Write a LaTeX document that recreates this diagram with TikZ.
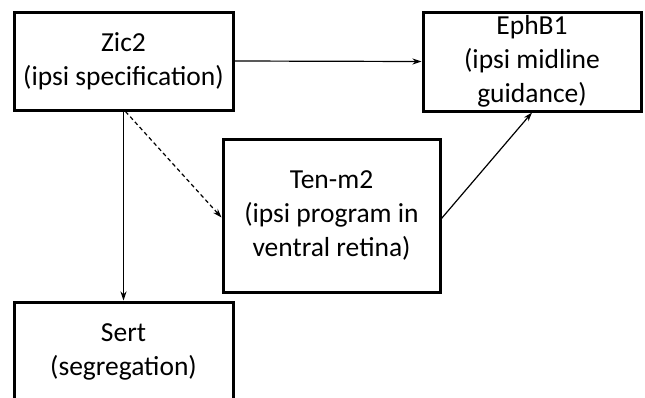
\documentclass[tikz,border=0pt]{standalone}
\usepackage{fontspec}
\setmainfont{Carlito}
\usetikzlibrary{arrows.meta}
\begin{document}
\begin{tikzpicture}[x=1pt,y=-1pt,
  box/.style={draw,line width=3pt,align=center,inner sep=0pt,
    font=\fontsize{27.5}{34}\selectfont},
  conn/.style={line width=1.2pt,-{Stealth[length=9pt,width=6pt]}}]
\useasboundingbox[fill=white] (0,0) rectangle (645,397);
\node[box,minimum width=219pt,minimum height=98pt] (zic) at (123.5,61) {Zic2\\(ipsi specification)};
\node[box,minimum width=218pt,minimum height=99pt] (eph) at (532,61.5) {EphB1\\(ipsi midline\\guidance)};
\node[box,minimum width=217pt,minimum height=153pt] (ten) at (331.5,215.5) {Ten-m2\\(ipsi program in\\ventral retina)};
\node[box,minimum width=219pt,minimum height=100pt] (sert) at (123.5,352) {Sert\\(segregation)};
\draw[conn] (zic.east) -- (eph.west);
\draw[conn] (zic.south) -- (sert.north);
\draw[conn,dash pattern=on 4pt off 3pt] ([xshift=2pt]zic.south) -- ([yshift=-2pt]ten.west);
\draw[conn] ([yshift=-3pt]ten.east) -- (eph.south);
\end{tikzpicture}
\end{document}
